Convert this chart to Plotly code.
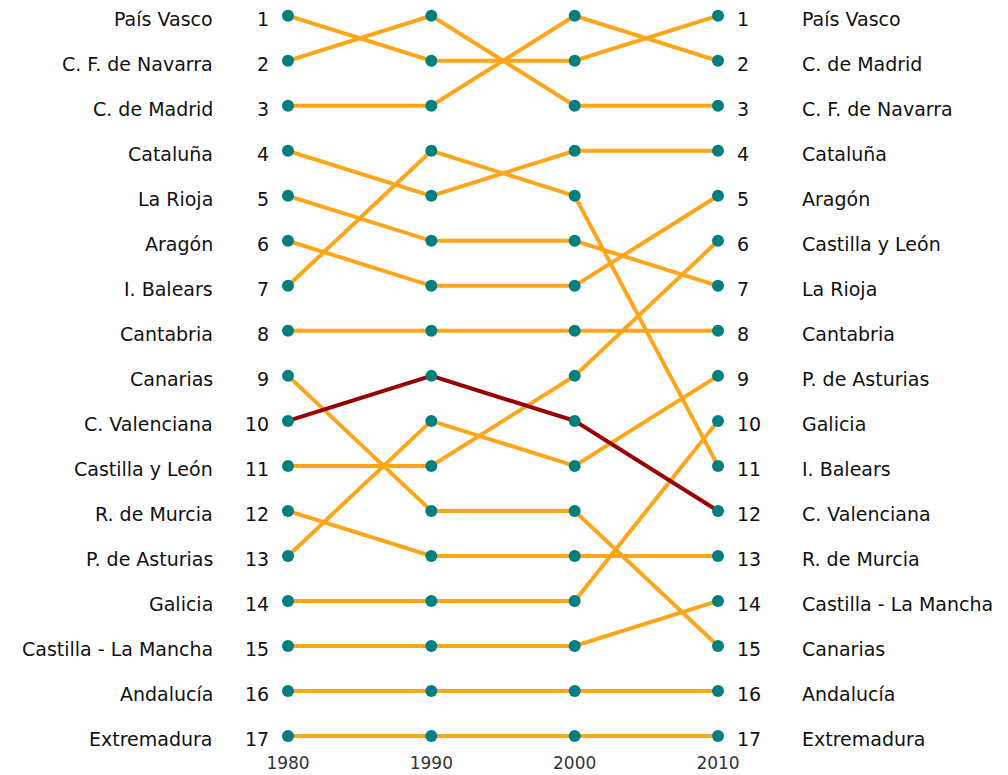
import plotly.graph_objects as go

years = [1980, 1990, 2000, 2010]
regions = ["País Vasco", "C. F. de Navarra", "C. de Madrid", "Cataluña", "La Rioja",
           "Aragón", "I. Balears", "Cantabria", "Canarias", "C. Valenciana",
           "Castilla y León", "R. de Murcia", "P. de Asturias", "Galicia",
           "Castilla - La Mancha", "Andalucía", "Extremadura"]
rank_1980 = [1, 2, 3, 4, 5, 6, 7, 8, 9, 10, 11, 12, 13, 14, 15, 16, 17]
rank_1990 = [2, 1, 3, 5, 6, 7, 4, 8, 12, 9, 11, 13, 10, 14, 15, 16, 17]
rank_2000 = [2, 3, 1, 4, 6, 7, 5, 8, 12, 10, 9, 13, 11, 14, 15, 16, 17]
rank_2010 = [1, 3, 2, 4, 7, 5, 11, 8, 15, 12, 6, 13, 9, 10, 14, 16, 17]
highlight = "C. Valenciana"

ORANGE = "#FFA51A"
RED = "#990000"
TEAL = "#007F7F"
FONT = "DejaVu Sans"

fig = go.Figure()
order = [r for r in regions if r != highlight] + [highlight]
for name in order:
    i = regions.index(name)
    ys = [rank_1980[i], rank_1990[i], rank_2000[i], rank_2010[i]]
    fig.add_trace(go.Scatter(x=years, y=ys, mode="lines",
                             line=dict(color=RED if name == highlight else ORANGE, width=4),
                             cliponaxis=False, hoverinfo="skip", showlegend=False))

mx, my = [], []
for i in range(len(regions)):
    for yr, rk in zip(years, [rank_1980[i], rank_1990[i], rank_2000[i], rank_2010[i]]):
        mx.append(yr)
        my.append(rk)
fig.add_trace(go.Scatter(x=mx, y=my, mode="markers",
                         marker=dict(color=TEAL, size=12),
                         cliponaxis=False, showlegend=False))

ann = []
nf = dict(family=FONT, size=19, color="#111111")
rf = dict(family=FONT, size=19, color="#111111")
YS = -3
for i, name in enumerate(regions):
    ann.append(dict(x=1980, y=rank_1980[i], text=name, xanchor="right", xshift=-74, yshift=YS,
                    showarrow=False, font=nf, borderpad=0))
    ann.append(dict(x=1980, y=rank_1980[i], text=str(rank_1980[i]), xanchor="right", xshift=-18,
                    yshift=YS, showarrow=False, font=rf, borderpad=0))
for i, name in enumerate(regions):
    ann.append(dict(x=2010, y=rank_2010[i], text=str(rank_2010[i]), xanchor="left", xshift=18,
                    yshift=YS, showarrow=False, font=rf, borderpad=0))
    ann.append(dict(x=2010, y=rank_2010[i], text=name, xanchor="left", xshift=83, yshift=YS,
                    showarrow=False, font=nf, borderpad=0))

fig.update_layout(
    width=1000, height=767,
    margin=dict(l=280, r=290, t=1.25, b=30, autoexpand=False),
    paper_bgcolor="white", plot_bgcolor="white",
    annotations=ann,
    xaxis=dict(range=[1980, 2010], tickvals=years, ticktext=[str(y) for y in years],
               showgrid=False, zeroline=False, showline=False, automargin=False,
               ticks="outside", ticklen=3, tickcolor="rgba(0,0,0,0)",
               tickfont=dict(family=FONT, size=17, color="#333333")),
    yaxis=dict(range=[17.2, 0.85], showgrid=False, zeroline=False, showline=False,
               automargin=False, showticklabels=False, ticks=""),
)
fig.write_html("out.html")
